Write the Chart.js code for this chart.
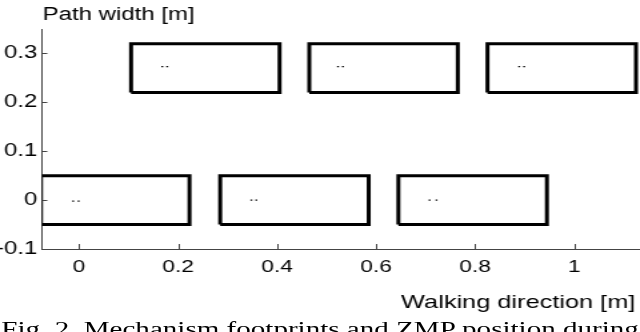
<!DOCTYPE html>
<html>
<head>
<meta charset="utf-8">
<script src="https://cdn.jsdelivr.net/npm/chart.js@4/dist/chart.umd.min.js"></script>
<style>
  html, body { margin: 0; padding: 0; background: #fff; overflow: hidden; }
  /* the original figure is stretched horizontally, so draw narrow and widen */
  #wrap { position: absolute; left: 0; top: 0; width: 480px; height: 332px;
          transform: scaleX(1.3333); transform-origin: 0 0; }
  #c { position: absolute; left: 0; top: 0; width: 480px; height: 332px; }
  #caption { position: absolute; left: 1px; top: 319px; color: #000;
             font: 20px "Liberation Serif", "DejaVu Serif", serif;
             line-height: 20px; white-space: nowrap;
             transform: scaleX(1.09); transform-origin: 0 0; }
</style>
</head>
<body>
<div id="wrap">
  <canvas id="c" width="480" height="332"></canvas>
  <div id="caption">Fig. 2. Mechanism footprints and ZMP position during</div>
</div>
<script>
// footprints (m)
const bottomFootStart = [-0.077, 0.285, 0.645];
const topFootStart = [0.105, 0.465, 0.825];
const rowCenter = [0, 0.27];
const footLength = 0.3;
const footWidth = 0.1;

// ZMP samples (m), two per footprint
const zmpBottomX = [-0.012, -0.001, 0.348, 0.358, 0.708, 0.722];
const zmpBottomY = [-0.002, -0.002, 0, 0, 0, 0];
const zmpTopX = [0.168, 0.178, 0.523, 0.533, 0.889, 0.899];
const zmpTopY = [0.273, 0.273, 0.273, 0.273, 0.273, 0.273];

const xTicks = [0, 0.2, 0.4, 0.6, 0.8, 1];
const yTicks = [-0.1, 0, 0.1, 0.2, 0.3];
const xTitle = 'Walking direction [m]';
const yTitle = 'Path width [m]';

const axisColor = '#444';
const fontFamily = '"Liberation Sans", Arial, Helvetica, sans-serif';

function footprint(x0, yc) {
  const y0 = yc - footWidth / 2, y1 = yc + footWidth / 2, x1 = x0 + footLength;
  return [{x: x0, y: y0}, {x: x1, y: y0}, {x: x1, y: y1}, {x: x0, y: y1}, {x: x0, y: y0}];
}

const datasets = [];
bottomFootStart.forEach(x0 => datasets.push(footprint(x0, rowCenter[0])));
topFootStart.forEach(x0 => datasets.push(footprint(x0, rowCenter[1])));

const chartDatasets = datasets.map(pts => ({
  data: pts,
  showLine: true,
  borderColor: '#000',
  borderWidth: 3,
  borderJoinStyle: 'miter',
  pointRadius: 0,
  fill: false,
  clip: 0
}));

const zmpPoints = zmpBottomX.map((x, i) => ({x: x, y: zmpBottomY[i]}))
  .concat(zmpTopX.map((x, i) => ({x: x, y: zmpTopY[i]})));
chartDatasets.push({
  data: zmpPoints,
  showLine: false,
  pointStyle: 'rect',
  pointRadius: 1,
  pointBackgroundColor: '#000',
  pointBorderWidth: 0,
  clip: 0
});

const decorations = {
  id: 'decorations',
  afterDraw(chart) {
    const {ctx, chartArea, scales} = chart;
    ctx.save();
    ctx.strokeStyle = axisColor;
    ctx.lineWidth = 1;
    ctx.beginPath();
    scales.x.ticks.forEach(t => {
      const px = Math.round(scales.x.getPixelForValue(t.value)) + 0.5;
      ctx.moveTo(px, chartArea.bottom);
      ctx.lineTo(px, chartArea.bottom - 5);
    });
    scales.y.ticks.forEach(t => {
      const py = Math.round(scales.y.getPixelForValue(t.value)) + 0.5;
      ctx.moveTo(chartArea.left, py);
      ctx.lineTo(chartArea.left + 4, py);
    });
    ctx.stroke();

    ctx.fillStyle = '#000';
    ctx.textBaseline = 'alphabetic';
    ctx.font = '18px ' + fontFamily;
    ctx.textAlign = 'left';
    ctx.fillText(yTitle, chartArea.left + 0.5, 20);
    ctx.font = '19px ' + fontFamily;
    ctx.textAlign = 'right';
    ctx.fillText(xTitle, chartArea.right - 3.5, 308);
    ctx.restore();
  }
};

const noPad = s => { s.paddingLeft = 0; s.paddingRight = 0; s.paddingTop = 0; s.paddingBottom = 0; };

new Chart(document.getElementById('c'), {
  type: 'scatter',
  data: {datasets: chartDatasets},
  options: {
    responsive: false,
    animation: false,
    events: [],
    layout: {autoPadding: false, padding: {top: 29, right: 0, bottom: 0, left: 0}},
    plugins: {legend: {display: false}, tooltip: {enabled: false}},
    scales: {
      x: {
        type: 'linear',
        min: -0.075,
        max: 1.133,
        afterBuildTicks: s => { s.ticks = xTicks.map(v => ({value: v})); },
        afterFit: s => { s.height = 83; noPad(s); },
        grid: {display: true, drawOnChartArea: false, drawTicks: false},
        border: {display: true, color: axisColor, width: 1},
        ticks: {
          color: '#000',
          padding: 8,
          font: {family: fontFamily, size: 17},
          maxRotation: 0,
          autoSkip: false,
          callback: v => String(v)
        }
      },
      y: {
        type: 'linear',
        min: -0.1,
        max: 0.35,
        afterBuildTicks: s => { s.ticks = yTicks.map(v => ({value: v})); },
        afterFit: s => { s.width = 31.5; noPad(s); },
        grid: {display: true, drawOnChartArea: false, drawTicks: false},
        border: {display: true, color: axisColor, width: 1},
        ticks: {
          color: '#000',
          padding: 3.5,
          font: {family: fontFamily, size: 18},
          autoSkip: false,
          callback: v => String(v)
        }
      }
    }
  },
  plugins: [decorations]
});
</script>
</body>
</html>
